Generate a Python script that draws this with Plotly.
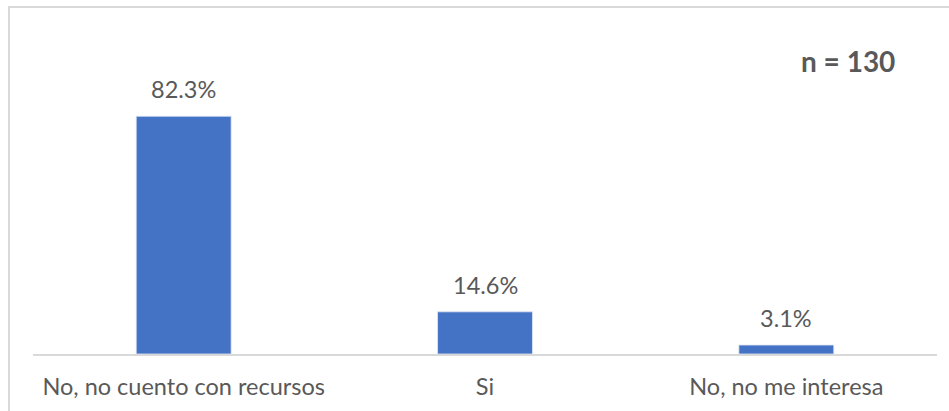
import plotly.graph_objects as go

categories = ["No, no cuento con recursos", "Si", "No, no me interesa"]
percentages = [82.3, 14.6, 3.1]
sample_note = "n = 130"

W, H = 949, 411
ML, MR, MT, MB = 33, 12, 94, 57
plot_w = W - ML - MR
plot_h = H - MT - MB

font_family = "Lato, 'Open Sans', sans-serif"
text_color = "#595959"

fig = go.Figure(
    go.Bar(
        x=categories,
        y=percentages,
        marker=dict(color="#4472C4", line=dict(color="#dfe6f3", width=0.8)),
        hoverinfo="skip",
    )
)

# value labels above each bar
for cat, val in zip(categories, percentages):
    fig.add_annotation(
        x=cat, y=val, xref="x", yref="y",
        text=f"{val:.1f}%", showarrow=False,
        yanchor="bottom", yshift=11,
        font=dict(family=font_family, size=23.5, color=text_color),
    )

# sample size note
fig.add_annotation(
    x=(848 - ML) / plot_w, y=(MT + plot_h - 61) / plot_h,
    xref="paper", yref="paper",
    text=f"<b>{sample_note}</b>", showarrow=False,
    xanchor="center", yanchor="middle",
    font=dict(family=font_family, size=28, color=text_color),
)

# outer chart border
fig.add_shape(
    type="rect", xref="paper", yref="paper",
    x0=(9 - ML) / plot_w, x1=1.2,
    y0=-0.5, y1=(MT + plot_h - 7) / plot_h,
    line=dict(color="#d9d9d9", width=2), fillcolor="rgba(0,0,0,0)",
    layer="below",
)

fig.update_layout(
    width=W, height=H,
    margin=dict(l=ML, r=MR, t=MT, b=MB),
    paper_bgcolor="white", plot_bgcolor="white",
    bargap=0.685,
    showlegend=False,
    font=dict(family=font_family, color=text_color),
)
fig.update_xaxes(
    showline=True, linecolor="#d9d9d9", linewidth=1.5,
    ticks="", showgrid=False,
    tickfont=dict(family=font_family, size=23.5, color=text_color),
    ticklabelstandoff=11,
)
fig.update_yaxes(
    range=[0, 90], visible=False, showgrid=False, zeroline=False,
)

fig.write_html("out.html")
